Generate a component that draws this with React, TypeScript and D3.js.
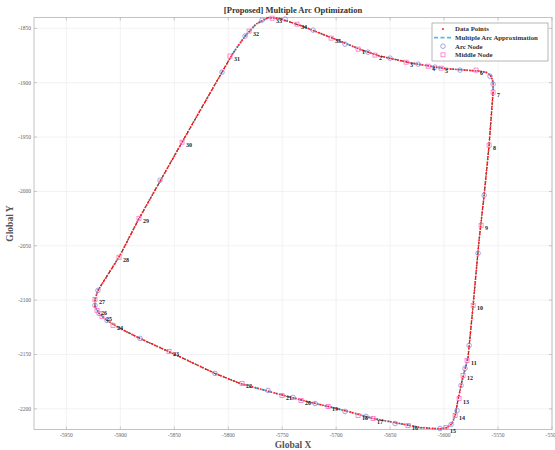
import React from 'react';
import * as d3 from 'd3';

const xTicks = [-5950, -5900, -5850, -5800, -5750, -5700, -5650, -5600, -5550, -5500];
const yTicks = [-2200, -2150, -2100, -2050, -2000, -1950, -1900, -1850];

// trajectory (closed loop)
const trackX = [
  -5763.1, -5752, -5731.6, -5701, -5676, -5659.3, -5629.7, -5610.2, -5597.2, -5566.7,
  -5560.2, -5556.5, -5554.6, -5554.6, -5558.3, -5562.9, -5567.6, -5573.1, -5577.8, -5583.3,
  -5587, -5589.8, -5592.6, -5597.2, -5603.7, -5622.3, -5633.4, -5665.8, -5689, -5707.5,
  -5727, -5752, -5789.1, -5812.3, -5849.3, -5881.8, -5900.3, -5912.3, -5919.8, -5923.5,
  -5923.5, -5920.7, -5900.3, -5883.6, -5842.8, -5805.8, -5795.6, -5784.4, -5774.3,
];
const trackY = [
  -1840.1, -1841, -1847.9, -1859.9, -1870, -1875.5, -1882, -1885.2, -1887.1, -1889.4,
  -1890.7, -1894, -1899.5, -1908.7, -1957.5, -2003.5, -2045, -2104.8, -2152.7, -2173.9,
  -2191.4, -2206.1, -2213.5, -2217.2, -2218.5, -2217.2, -2214.9, -2208.9, -2202.4, -2197.8,
  -2193.2, -2186.8, -2176.6, -2167.4, -2150, -2135.2, -2126, -2118.6, -2112.2, -2105.7,
  -2099.3, -2091, -2058.8, -2026.6, -1954.7, -1890.3, -1872.8, -1857.1, -1846.1,
];
// index ranges of the trajectory that are straight (dark dashed) pieces
const lineRanges: [number, number][] = [[1, 3], [4, 6], [13, 18], [19, 21], [32, 36], [41, 46]];

const middleX = [
  -5679.7, -5664, -5635.2, -5614.8, -5602.8, -5570.4, -5554.6, -5558.3, -5565.7, -5573.1,
  -5578.7, -5582.4, -5586.1, -5589.8, -5598.2, -5633.4, -5665.8, -5679.7, -5707.5, -5732.5,
  -5750.2, -5787.2, -5854.9, -5906.8, -5917, -5921.6, -5923.5, -5901.2, -5882.7, -5842.8,
  -5798.4, -5780.7, -5759.4, -5736.3, -5704.7,
];
const middleY = [
  -1869.1, -1874.6, -1881.1, -1884.8, -1886.6, -1888.4, -1908.7, -1957.5, -2031.2, -2104.8,
  -2155.5, -2169.3, -2190.5, -2206.1, -2217.2, -2215.3, -2208.9, -2206.1, -2197.8, -2192.3,
  -2187.7, -2176.6, -2147.2, -2123.2, -2115, -2109.4, -2099.3, -2060.6, -2024.7, -1954.7,
  -1875.5, -1852.5, -1840.6, -1846.1, -1859,
];
const nodeLabels = [
  '1', '2', '3', '4', '5', '6', '7', '8', '9', '10', '11', '12', '13', '14', '15', '16', '17', '18',
  '19', '20', '21', '22', '23', '24', '25', '26', '27', '28', '29', '30', '31', '32', '33', '34', '35',
];
const arcX = [
  -5691.8, -5670.5, -5650.1, -5624.1, -5608.4, -5585.2, -5557.4, -5554.6, -5562.9, -5568.5,
  -5576.8, -5580.6, -5584.3, -5588, -5593.5, -5603.7, -5645.4, -5672.3, -5691.8, -5719.6,
  -5740, -5763.1, -5812.3, -5881.8, -5912.3, -5919.8, -5923.5, -5920.7, -5863.2, -5805.8,
  -5784.4, -5768.7, -5747.4, -5721.4,
];
const arcY = [
  -1864.5, -1871.9, -1877.4, -1882.9, -1885.7, -1888.4, -1894, -1901.3, -2003.5, -2056.9,
  -2141.7, -2162.8, -2178.5, -2201.5, -2214.4, -2218.1, -2213.5, -2207, -2202.4, -2195.1,
  -2189.5, -2183.1, -2167.4, -2135.2, -2118.6, -2112.2, -2104.8, -2091, -1989.7, -1890.3,
  -1857.1, -1842.4, -1841.5, -1851.6,
];

const legendItems = ['Data Points', 'Multiple Arc Approximation', 'Arc Node', 'Middle Node'];

const W = 555, H = 450;
const L = 34, R = 552, T = 17.5, B = 429.5;
const serif = "'Liberation Serif', 'DejaVu Serif', serif";
const BLUE = '#4DBEEE';
const RED = '#ff2020';
const CIRC = '#8c8ce0';
const SQ = '#ff70c8';

export default function App() {
  const x = d3.scaleLinear().domain([-5980, -5500]).range([L, R]);
  const y = d3.scaleLinear().domain([-2219, -1840]).range([B, T]);
  const pts: [number, number][] = trackX.map((v, i) => [v, trackY[i]]);
  const closed = [...pts, pts[0]];
  const line = d3.line<[number, number]>().x(d => x(d[0])).y(d => y(d[1]));

  const n = closed.length - 1;
  const isLine = (i: number) => lineRanges.some(([a, b]) => i >= a && i < b);
  const bluePieces: [number, number][][] = [];
  let cur: [number, number][] = [];
  for (let i = 0; i < n; i++) {
    if (!isLine(i)) {
      if (cur.length === 0) cur.push(closed[i]);
      cur.push(closed[i + 1]);
    } else if (cur.length) {
      bluePieces.push(cur);
      cur = [];
    }
  }
  if (cur.length) bluePieces.push(cur);
  const blackPieces = lineRanges.map(([a, b]) => closed.slice(a, b + 1));

  return (
    <svg width={W} height={H} style={{ position: 'absolute', left: 0, top: 0, background: '#fff' }}
      fontFamily={serif}>
      <rect x={0} y={0} width={W} height={H} fill="#fff" />
      {xTicks.map(t => (
        <line key={'gx' + t} x1={x(t)} x2={x(t)} y1={T} y2={B} stroke="#ececec" strokeWidth={0.7} />
      ))}
      {yTicks.map(t => (
        <line key={'gy' + t} x1={L} x2={R} y1={y(t)} y2={y(t)} stroke="#ececec" strokeWidth={0.7} />
      ))}
      <rect x={L} y={T} width={R - L} height={B - T} fill="none" stroke="#b4b4b4" strokeWidth={0.8} />
      {xTicks.map(t => (
        <g key={'tx' + t}>
          <line x1={x(t)} x2={x(t)} y1={B} y2={B - 3} stroke="#b4b4b4" strokeWidth={0.7} />
          <line x1={x(t)} x2={x(t)} y1={T} y2={T + 3} stroke="#b4b4b4" strokeWidth={0.7} />
          <text x={x(t)} y={B + 7.5} fontSize={5.5} fill="#666" textAnchor="middle">{t}</text>
        </g>
      ))}
      {yTicks.map(t => (
        <g key={'ty' + t}>
          <line x1={L} x2={L + 3} y1={y(t)} y2={y(t)} stroke="#b4b4b4" strokeWidth={0.7} />
          <line x1={R} x2={R - 3} y1={y(t)} y2={y(t)} stroke="#b4b4b4" strokeWidth={0.7} />
          <text x={L - 3} y={y(t) + 2} fontSize={5.5} fill="#666" textAnchor="end">{t}</text>
        </g>
      ))}
      {blackPieces.map((p, i) => (
        <path key={'bk' + i} d={line(p) || ''} fill="none" stroke="#3a3a3a" strokeWidth={1.1}
          strokeDasharray="3 2" />
      ))}
      {bluePieces.map((p, i) => (
        <path key={'bl' + i} d={line(p) || ''} fill="none" stroke={BLUE} strokeWidth={1.7}
          strokeDasharray="4 2.5" />
      ))}
      <path d={line(closed) || ''} fill="none" stroke={RED} strokeWidth={1.9}
        strokeDasharray="0 2.8" strokeLinecap="round" />
      {arcX.map((v, i) => (
        <circle key={'a' + i} cx={x(v)} cy={y(arcY[i])} r={2.3} fill="none" stroke={CIRC} strokeWidth={0.8} />
      ))}
      {middleX.map((v, i) => (
        <rect key={'m' + i} x={x(v) - 2} y={y(middleY[i]) - 2} width={4} height={4} fill="none"
          stroke={SQ} strokeWidth={0.8} />
      ))}
      {middleX.map((v, i) => (
        <text key={'l' + i} x={x(v) + 4} y={y(middleY[i]) + 5} fontSize={6} fontWeight="bold" fill="#222">
          {nodeLabels[i]}
        </text>
      ))}
      <text x={(L + R) / 2} y={13} fontSize={8.5} fontWeight="bold" fill="#333" textAnchor="middle">
        [Proposed] Multiple Arc Optimization
      </text>
      <text x={(L + R) / 2} y={447.5} fontSize={9.5} fontWeight="bold" fill="#555" textAnchor="middle">Global X</text>
      <text transform={`translate(13, ${(T + B) / 2}) rotate(-90)`} fontSize={9.5} fontWeight="bold" fill="#555"
        textAnchor="middle">Global Y</text>
      <g>
        <rect x={432} y={23} width={116} height={38} fill="#fff" stroke="#999" strokeWidth={0.7} />
        {legendItems.map((s, i) => {
          const cy = 29 + i * 8.6;
          return (
            <g key={'lg' + i}>
              {i === 0 && <circle cx={443} cy={cy} r={1} fill={RED} />}
              {i === 1 && <line x1={434} x2={451} y1={cy} y2={cy} stroke={BLUE} strokeWidth={1.6} strokeDasharray="4 2.5" />}
              {i === 2 && <circle cx={443} cy={cy} r={2.3} fill="none" stroke={CIRC} strokeWidth={0.8} />}
              {i === 3 && <rect x={441} y={cy - 2} width={4} height={4} fill="none" stroke={SQ} strokeWidth={0.8} />}
              <text x={455} y={cy + 2.3} fontSize={6.8} fontWeight="bold" fill="#333">{s}</text>
            </g>
          );
        })}
      </g>
    </svg>
  );
}
